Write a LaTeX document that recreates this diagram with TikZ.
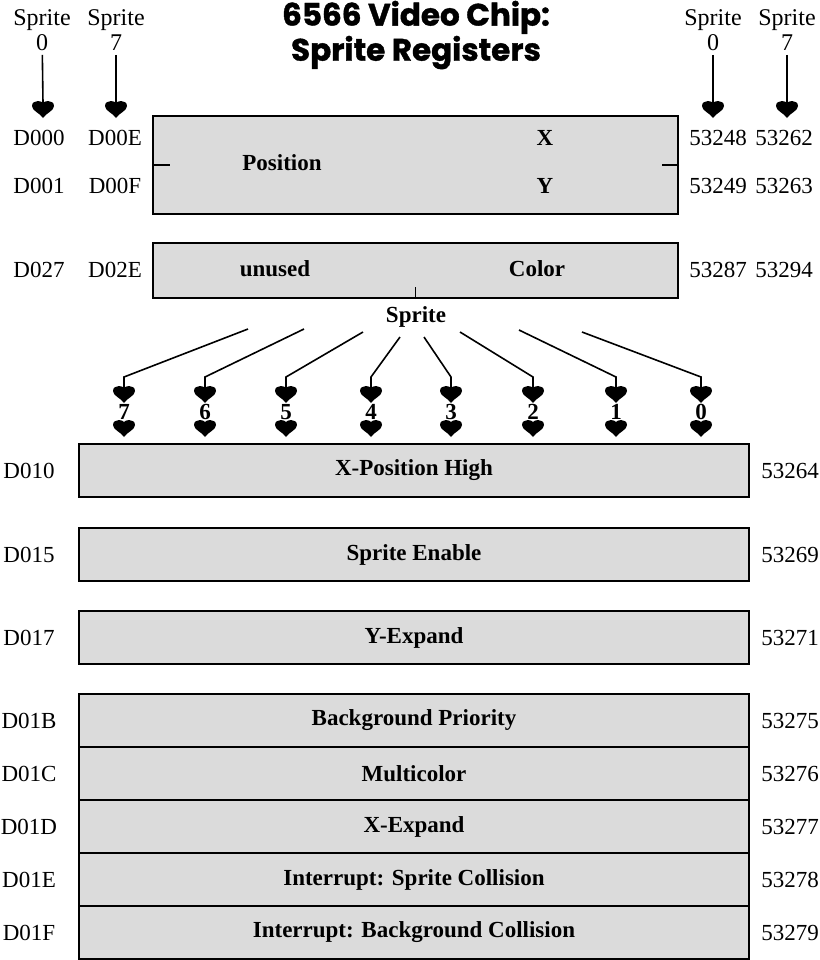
\documentclass[tikz,border=0pt]{standalone}
\usepackage{fontspec}
\setmainfont{Liberation Serif}
\newfontfamily\titlefont{Poppins}[BoldFeatures = {FakeBold = 1.2}]
\usetikzlibrary{calc}

\begin{document}
\begin{tikzpicture}[
    x = 0.5pt, y = -0.5pt,
    reg/.style = {draw, line width = 1pt, fill = black!14, inner sep = 0pt},
    lbl/.style = {inner sep = 0pt, font = \fontsize{11.5}{12}\selectfont},
    fld/.style = {inner sep = 0pt, font = \fontsize{11.5}{12}\selectfont\bfseries},
    spr/.style = {align = center, inner sep = 2pt, font = \fontsize{12}{12.5}\selectfont},
    wire/.style = {draw, line width = 0.8pt},
    heart/.pic = {
      \fill (0,0) .. controls (-3,-5) and (-11,-7) .. (-11,-12)
        .. controls (-11,-15.5) and (-8,-17) .. (-5,-17)
        .. controls (-2.5,-17) and (-1,-16) .. (0,-15)
        .. controls (1,-16) and (2.5,-17) .. (5,-17)
        .. controls (8,-17) and (11,-15.5) .. (11,-12)
        .. controls (11,-7) and (3,-5) .. (0,0) -- cycle;
    },
    ]

    \useasboundingbox (0,0) rectangle (820,960);

    % title
    \node[align = center, font = \fontsize{15.5}{11.5}\titlefont\bfseries] (title) at (416,35)
      {6566 Video Chip:\\Sprite Registers};

    % sprite 0 / sprite 7 columns
    \node[spr] (sl0) at (42,30) {Sprite\\0};
    \node[spr] (sl7) at (116,30) {Sprite\\7};
    \node[spr] (sr0) at (713,30) {Sprite\\0};
    \node[spr] (sr7) at (787,30) {Sprite\\7};
    \coordinate (hl0) at (43,103);
    \coordinate (hl7) at (116,103);
    \coordinate (hr0) at (713,103);
    \coordinate (hr7) at (787,103);
    \foreach \c in {l0, l7, r0, r7}{
      \draw[wire] (s\c) -- (h\c);
      \pic at ($(h\c)+(0,15)$) {heart};
    }

    % position registers
    \node[reg, anchor = north west, minimum width = 262.5pt, minimum height = 49pt] (posbox) at (152,115) {};
    \draw[line width = 0.8pt] (posbox.west) -- ++(18,0);
    \draw[line width = 0.8pt] (posbox.east) -- ++(-17,0);
    \node[fld] (pos) at (282,163) {Position};
    \node[fld] (px) at (545,138) {X};
    \node[fld] (py) at (545,186) {Y};
    \node[lbl] (a00) at (39,138) {D000};
    \node[lbl] (a0E) at (115,138) {D00E};
    \node[lbl] (a01) at (39,186) {D001};
    \node[lbl] (a0F) at (115,186) {D00F};
    \node[lbl] (d48) at (718,138) {53248};
    \node[lbl] (d62) at (784,138) {53262};
    \node[lbl] (d49) at (718,186) {53249};
    \node[lbl] (d63) at (784,186) {53263};

    % color registers
    \node[reg, anchor = north west, minimum width = 262.5pt, minimum height = 27.5pt] (colbox) at (152,242) {};
    \draw[line width = 0.8pt] (colbox.south) -- ++(0,-12);
    \node[fld] (unused) at (275,269) {unused};
    \node[fld] (color) at (537,269) {Color};
    \node[lbl] (a27) at (39,270) {D027};
    \node[lbl] (a2E) at (115,270) {D02E};
    \node[lbl] (d87) at (718,270) {53287};
    \node[lbl] (d94) at (784,270) {53294};

    % sprite bits
    \node[fld] (sprite) at (416,317) {Sprite};
    \foreach \b/\x/\tx/\ty in {7/124/248/329, 6/205/304/329, 5/286/363/332, 4/371/400/337,
                               3/451/424/337, 2/533/460/332, 1/616/519/330, 0/701/582/332}{
      \coordinate (t\b) at (\tx,\ty);
      \coordinate (k\b) at (\x,377);
      \coordinate (h\b) at (\x,388);
      \draw[wire] (t\b) -- (k\b) -- (h\b);
      \pic at (\x,403) {heart};
      \node[fld] (n\b) at (\x,412) {\b};
      \pic at (\x,437) {heart};
    }

    % single registers
    \foreach \i/\y/\hex/\dec/\name in {0/443/D010/53264/X-Position High,
                                       1/527/D015/53269/Sprite Enable,
                                       2/610/D017/53271/Y-Expand}{
      \node[reg, anchor = north west, minimum width = 335pt, minimum height = 26.5pt] (one\i) at (78,\y) {};
      \node[fld] at (one\i) {\name};
      \node[lbl] (ohex\i) at ($(one\i.west)+(-49,0)$) {\hex};
      \node[lbl] (odec\i) at ($(one\i.east)+(40,0)$) {\dec};
    }

    % register stack
    \foreach \i/\hex/\dec/\name in {0/D01B/53275/Background Priority,
                                    1/D01C/53276/Multicolor,
                                    2/D01D/53277/X-Expand,
                                    3/D01E/53278/Interrupt: Sprite Collision,
                                    4/D01F/53279/Interrupt: Background Collision}{
      \node[reg, anchor = north west, minimum width = 335pt, minimum height = 26.5pt] (row\i) at (78,693+53*\i) {};
      \node[fld] at (row\i) {\name};
      \node[lbl] (hex\i) at ($(row\i.west)+(-49,0)$) {\hex};
      \node[lbl] (dec\i) at ($(row\i.east)+(40,0)$) {\dec};
    }

\end{tikzpicture}
\end{document}
